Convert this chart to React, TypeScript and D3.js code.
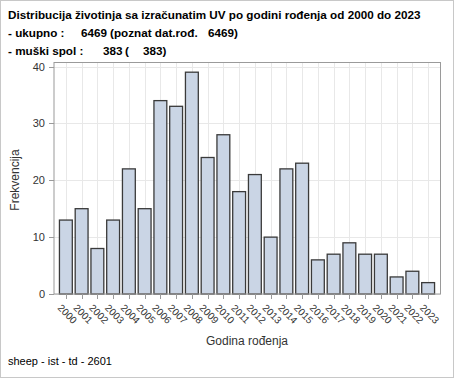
import React from "react";
import * as d3 from "d3";

const years = ["2000","2001","2002","2003","2004","2005","2006","2007","2008","2009","2010","2011","2012","2013","2014","2015","2016","2017","2018","2019","2020","2021","2022","2023"];
const counts = [13,15,8,13,22,15,34,33,39,24,28,18,21,10,22,23,6,7,9,7,7,3,4,2];
const yTicks = [0,10,20,30,40];
const titleLine1 = "Distribucija životinja sa izračunatim UV po godini rođenja od 2000 do 2023";
const xLabel = "Godina rođenja";
const yLabel = "Frekvencija";
const footer = "sheep - ist - td - 2601";

export default function App() {
  const W = 454, H = 378;
  const left = 54, right = 440.5, top = 62.5, bottom = 294;
  const x = d3.scaleBand<string>().domain(years).range([58, 436]).paddingInner(0.12).paddingOuter(0.06);
  const y = d3.scaleLinear().domain([0, 40]).range([294, 66.5]);
  const font = "'Liberation Sans', Arial, sans-serif";
  return (
    <svg width={W} height={H} style={{ position: "fixed", left: 0, top: 0, background: "#fff" }} fontFamily={font}>
      <rect x={0.5} y={0.5} width={W - 1} height={H - 1} fill="#fff" stroke="#c8c8c8" />
      <g fontWeight="bold" fontSize={11.7} fill="#000">
        <text x={8} y={19}>{titleLine1}</text>
        <text x={8} y={37}>- ukupno :</text>
        <text x={81} y={37}>6469</text>
        <text x={110} y={37}>(poznat dat.rođ.</text>
        <text x={208} y={37}>6469)</text>
        <text x={8} y={55}>- muški spol :</text>
        <text x={103} y={55}>383</text>
        <text x={125} y={55}>(</text>
        <text x={143} y={55}>383)</text>
      </g>
      {/* gridlines */}
      <g stroke="#e8e8e8" strokeWidth={1}>
        {years.map(yr => {
          const cx = Math.round(x(yr)! + x.bandwidth() / 2) + 0.5;
          return <line key={yr} x1={cx} x2={cx} y1={top} y2={bottom} />;
        })}
        {yTicks.map(t => (
          <line key={t} x1={left} x2={right} y1={Math.round(y(t)) + 0.5} y2={Math.round(y(t)) + 0.5} />
        ))}
      </g>
      {/* bars */}
      <g>
        {counts.map((c, i) => (
          <rect key={years[i]} x={x(years[i])! + 0.5} y={y(c)} width={x.bandwidth() - 1} height={y(0) - y(c)}
            fill="#cad5e5" stroke="#3a3a3a" strokeWidth={1.3} />
        ))}
      </g>
      {/* frame */}
      <rect x={left} y={top} width={right - left} height={bottom - top} fill="none" stroke="#9a9a9a" strokeWidth={1} />
      {/* y ticks */}
      <g fontSize={11} fill="#333">
        {yTicks.map(t => (
          <g key={t}>
            <line x1={49} x2={left} y1={Math.round(y(t)) + 0.5} y2={Math.round(y(t)) + 0.5} stroke="#9a9a9a" />
            <text x={45} y={y(t)} textAnchor="end" dominantBaseline="central">{t}</text>
          </g>
        ))}
      </g>
      {/* x ticks */}
      <g fontSize={10} fill="#333">
        {years.map(yr => {
          const cx = x(yr)! + x.bandwidth() / 2;
          return (
            <g key={yr}>
              <line x1={Math.round(cx) + 0.5} x2={Math.round(cx) + 0.5} y1={bottom} y2={299} stroke="#9a9a9a" />
              <text transform={`translate(${cx + 1.5},314) rotate(45)`} textAnchor="middle" dominantBaseline="central">{yr}</text>
            </g>
          );
        })}
      </g>
      <text x={247} y={345} textAnchor="middle" fontSize={12} fill="#333">{xLabel}</text>
      <text transform={`translate(19,180) rotate(-90)`} textAnchor="middle" fontSize={12} fill="#333">{yLabel}</text>
      <text x={8} y={365} fontSize={11} fill="#000">{footer}</text>
    </svg>
  );
}
